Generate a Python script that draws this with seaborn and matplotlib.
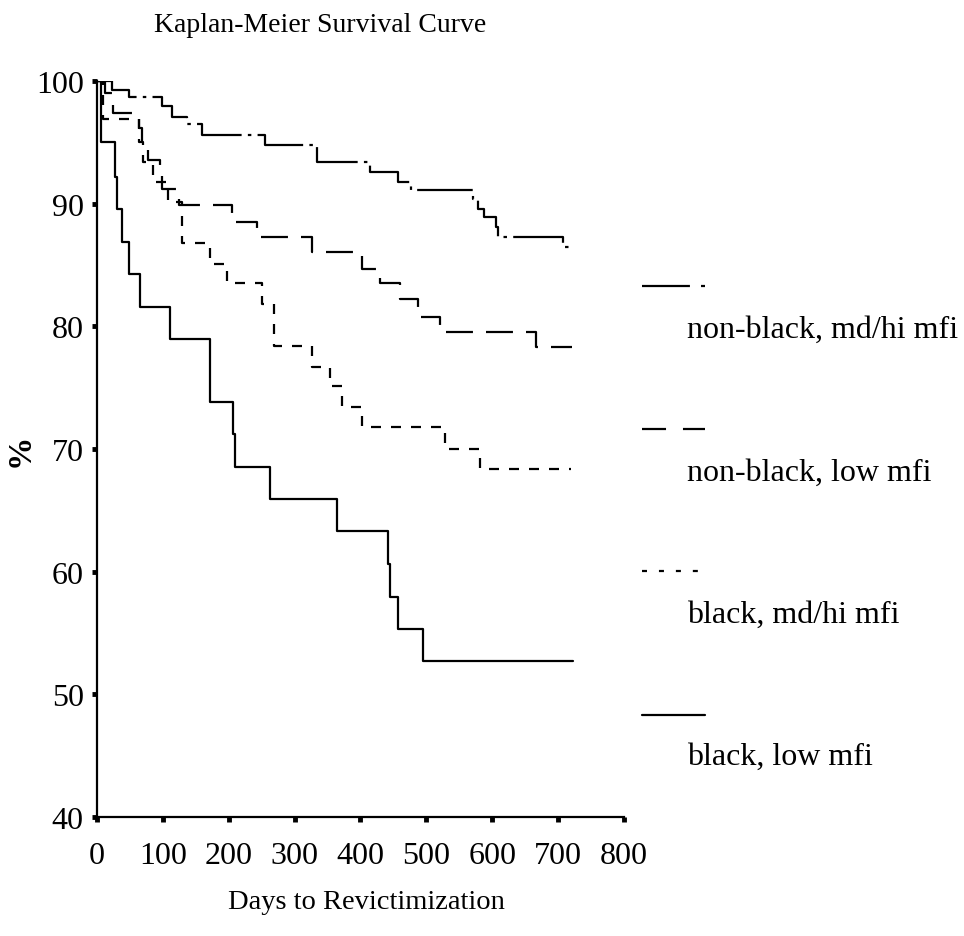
import matplotlib
matplotlib.use("Agg")
import matplotlib.pyplot as plt
from matplotlib.lines import Line2D
import seaborn as sns
import pandas as pd

# Kaplan-Meier curves (days, % not revictimized)
days_nb_hi = [0, 23, 49, 99, 114, 137, 160, 255, 334, 415, 457, 476, 571, 579, 587, 606, 609, 708, 722]
surv_nb_hi = [100, 99.3, 98.7, 98.0, 97.1, 96.5, 95.6, 94.8, 93.4, 92.6, 91.8, 91.1, 90.4, 89.6, 88.9, 88.1, 87.3, 86.5, 86.5]

days_nb_lo = [0, 12, 25, 63, 68, 78, 96, 99, 124, 205, 243, 327, 403, 430, 460, 488, 521, 667, 721]
surv_nb_lo = [100, 99.0, 97.4, 96.2, 95.0, 93.6, 92.4, 91.2, 89.9, 88.5, 87.3, 86.1, 84.7, 83.5, 82.2, 80.8, 79.5, 78.3, 78.3]

days_b_hi = [0, 9, 64, 70, 85, 108, 129, 172, 198, 251, 269, 327, 354, 372, 403, 529, 582, 720]
surv_b_hi = [100, 96.9, 95.0, 93.4, 91.8, 90.1, 86.8, 85.1, 83.5, 81.8, 78.4, 76.7, 75.1, 73.4, 71.8, 70.0, 68.4, 68.4]

days_b_lo = [0, 6, 27, 30, 38, 48, 65, 111, 171, 172, 207, 210, 263, 365, 442, 445, 457, 495, 722]
surv_b_lo = [100, 95.0, 92.2, 89.6, 86.9, 84.3, 81.6, 79.0, 76.4, 73.8, 71.2, 68.5, 65.9, 63.3, 60.6, 57.9, 55.3, 52.7, 52.7]

groups = ["non-black, md/hi mfi", "non-black, low mfi", "black, md/hi mfi", "black, low mfi"]
x_ticks = [0, 100, 200, 300, 400, 500, 600, 700, 800]
y_ticks = [40, 50, 60, 70, 80, 90, 100]

sns.set_style("ticks")
plt.rcParams["font.family"] = ["Liberation Serif", "DejaVu Serif"]
plt.rcParams["lines.scale_dashes"] = False
plt.rcParams["text.color"] = "black"
plt.rcParams["axes.edgecolor"] = "black"
plt.rcParams["xtick.color"] = "black"
plt.rcParams["ytick.color"] = "black"

# armamos la tabla larga para seaborn
partes = []
for g, d, s in zip(groups,
                   [days_nb_hi, days_nb_lo, days_b_hi, days_b_lo],
                   [surv_nb_hi, surv_nb_lo, surv_b_hi, surv_b_lo]):
    partes.append(pd.DataFrame({"days": d, "surv": s, "group": g}))
data_km = pd.concat(partes, ignore_index=True)

estilos = {
    "non-black, md/hi mfi": (40, 4.5, 2.5, 4.5),
    "non-black, low mfi": (19.4, 9.4),
    "black, md/hi mfi": (7.2, 7.2),
    "black, low mfi": "",
}

fig = plt.figure(figsize=(9.64, 9.37), dpi=100)
ax = fig.add_axes([97 / 964, 1 - 818 / 937, (624 - 97) / 964, (818 - 82) / 937])

sns.lineplot(ax=ax, data=data_km, x="days", y="surv", style="group", dashes=estilos,
             color="black", linewidth=1.6, drawstyle="steps-post", legend=False,
             sort=False, estimator=None)

ax.set_xlim(0, 800)
ax.set_ylim(40, 100)
ax.set_xticks(x_ticks)
ax.set_yticks(y_ticks)
ax.set_xticklabels([str(v) for v in x_ticks])
ax.set_yticklabels([str(v) for v in y_ticks])
ax.set_xlabel("")
ax.set_ylabel("")
for lado in ["top", "right"]:
    ax.spines[lado].set_visible(False)
for lado in ["left", "bottom"]:
    ax.spines[lado].set_linewidth(1.6)
ax.tick_params(axis="both", direction="out", length=3.5, width=3.5, labelsize=23)
ax.tick_params(axis="x", pad=14)
ax.tick_params(axis="y", pad=6)

# textos
fig.text(154 / 964, 1 - 26 / 937, "Kaplan-Meier Survival Curve", ha="left", va="center", fontsize=20)
fig.text(228 / 964, 1 - 903 / 937, "Days to Revictimization", ha="left", va="center", fontsize=20.5)
fig.text(20 / 964, 1 - 450 / 937, "%", ha="center", va="center", fontsize=24, rotation=90, fontweight="bold")

# leyenda a mano (muestra arriba, etiqueta abajo)
muestras = [(34.5, 8.0, 3.6, 8.0), (17.3, 12.2), (3.6, 8.6), None]
y_linea = [287, 430, 572, 716]
y_texto = [330, 473, 615, 757]
for g, m, yl, yt in zip(groups, muestras, y_linea, y_texto):
    ln = Line2D([642 / 964, 705 / 964], [1 - yl / 937, 1 - yl / 937], transform=fig.transFigure,
                color="black", linewidth=1.6)
    if m is not None:
        ln.set_dashes(m)
    fig.add_artist(ln)
    fig.text(687 / 964, 1 - yt / 937, g, ha="left", va="center", fontsize=23)

fig.savefig("out.png", dpi=100)
